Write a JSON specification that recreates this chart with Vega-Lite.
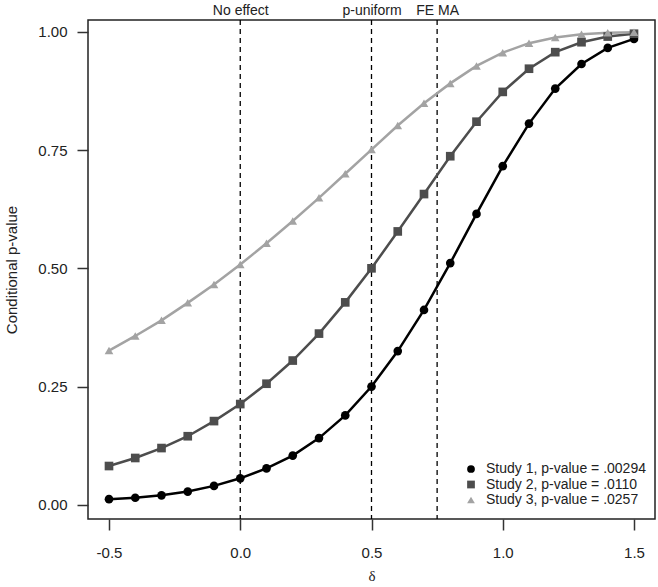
{
  "$schema": "https://vega.github.io/schema/vega-lite/v6.json",
  "width": 567,
  "height": 499,
  "autosize": "none",
  "padding": {"left": 88, "top": 20, "right": 3, "bottom": 68},
  "background": "white",
  "config": {
    "font": "Liberation Sans",
    "view": {"stroke": "#222222", "strokeWidth": 1.5},
    "axis": {
      "labelFont": "Liberation Sans",
      "labelFontSize": 15,
      "labelColor": "#222222",
      "titleFont": "Liberation Sans",
      "titleFontSize": 15,
      "titleFontWeight": "normal",
      "titleColor": "#222222",
      "tickColor": "#333333",
      "tickWidth": 1.5,
      "tickSize": 11,
      "grid": false,
      "domain": false
    },
    "legend": {"labelFont": "Liberation Sans", "labelFontSize": 14, "labelColor": "#222222"}
  },
  "datasets": {
    "curves": [
      {"delta": -0.5, "p": 0.012, "study": "Study 1, p-value = .00294"},
      {"delta": -0.4, "p": 0.015, "study": "Study 1, p-value = .00294"},
      {"delta": -0.3, "p": 0.020, "study": "Study 1, p-value = .00294"},
      {"delta": -0.2, "p": 0.028, "study": "Study 1, p-value = .00294"},
      {"delta": -0.1, "p": 0.040, "study": "Study 1, p-value = .00294"},
      {"delta": 0.0, "p": 0.056, "study": "Study 1, p-value = .00294"},
      {"delta": 0.1, "p": 0.077, "study": "Study 1, p-value = .00294"},
      {"delta": 0.2, "p": 0.104, "study": "Study 1, p-value = .00294"},
      {"delta": 0.3, "p": 0.141, "study": "Study 1, p-value = .00294"},
      {"delta": 0.4, "p": 0.189, "study": "Study 1, p-value = .00294"},
      {"delta": 0.5, "p": 0.250, "study": "Study 1, p-value = .00294"},
      {"delta": 0.6, "p": 0.325, "study": "Study 1, p-value = .00294"},
      {"delta": 0.7, "p": 0.412, "study": "Study 1, p-value = .00294"},
      {"delta": 0.8, "p": 0.511, "study": "Study 1, p-value = .00294"},
      {"delta": 0.9, "p": 0.615, "study": "Study 1, p-value = .00294"},
      {"delta": 1.0, "p": 0.716, "study": "Study 1, p-value = .00294"},
      {"delta": 1.1, "p": 0.806, "study": "Study 1, p-value = .00294"},
      {"delta": 1.2, "p": 0.880, "study": "Study 1, p-value = .00294"},
      {"delta": 1.3, "p": 0.932, "study": "Study 1, p-value = .00294"},
      {"delta": 1.4, "p": 0.966, "study": "Study 1, p-value = .00294"},
      {"delta": 1.5, "p": 0.985, "study": "Study 1, p-value = .00294"},
      {"delta": -0.5, "p": 0.082, "study": "Study 2, p-value = .0110"},
      {"delta": -0.4, "p": 0.099, "study": "Study 2, p-value = .0110"},
      {"delta": -0.3, "p": 0.120, "study": "Study 2, p-value = .0110"},
      {"delta": -0.2, "p": 0.145, "study": "Study 2, p-value = .0110"},
      {"delta": -0.1, "p": 0.177, "study": "Study 2, p-value = .0110"},
      {"delta": 0.0, "p": 0.213, "study": "Study 2, p-value = .0110"},
      {"delta": 0.1, "p": 0.256, "study": "Study 2, p-value = .0110"},
      {"delta": 0.2, "p": 0.305, "study": "Study 2, p-value = .0110"},
      {"delta": 0.3, "p": 0.362, "study": "Study 2, p-value = .0110"},
      {"delta": 0.4, "p": 0.428, "study": "Study 2, p-value = .0110"},
      {"delta": 0.5, "p": 0.500, "study": "Study 2, p-value = .0110"},
      {"delta": 0.6, "p": 0.578, "study": "Study 2, p-value = .0110"},
      {"delta": 0.7, "p": 0.657, "study": "Study 2, p-value = .0110"},
      {"delta": 0.8, "p": 0.737, "study": "Study 2, p-value = .0110"},
      {"delta": 0.9, "p": 0.810, "study": "Study 2, p-value = .0110"},
      {"delta": 1.0, "p": 0.873, "study": "Study 2, p-value = .0110"},
      {"delta": 1.1, "p": 0.922, "study": "Study 2, p-value = .0110"},
      {"delta": 1.2, "p": 0.957, "study": "Study 2, p-value = .0110"},
      {"delta": 1.3, "p": 0.978, "study": "Study 2, p-value = .0110"},
      {"delta": 1.4, "p": 0.990, "study": "Study 2, p-value = .0110"},
      {"delta": 1.5, "p": 0.996, "study": "Study 2, p-value = .0110"},
      {"delta": -0.5, "p": 0.326, "study": "Study 3, p-value = .0257"},
      {"delta": -0.4, "p": 0.357, "study": "Study 3, p-value = .0257"},
      {"delta": -0.3, "p": 0.390, "study": "Study 3, p-value = .0257"},
      {"delta": -0.2, "p": 0.427, "study": "Study 3, p-value = .0257"},
      {"delta": -0.1, "p": 0.466, "study": "Study 3, p-value = .0257"},
      {"delta": 0.0, "p": 0.508, "study": "Study 3, p-value = .0257"},
      {"delta": 0.1, "p": 0.553, "study": "Study 3, p-value = .0257"},
      {"delta": 0.2, "p": 0.600, "study": "Study 3, p-value = .0257"},
      {"delta": 0.3, "p": 0.649, "study": "Study 3, p-value = .0257"},
      {"delta": 0.4, "p": 0.700, "study": "Study 3, p-value = .0257"},
      {"delta": 0.5, "p": 0.751, "study": "Study 3, p-value = .0257"},
      {"delta": 0.6, "p": 0.802, "study": "Study 3, p-value = .0257"},
      {"delta": 0.7, "p": 0.849, "study": "Study 3, p-value = .0257"},
      {"delta": 0.8, "p": 0.891, "study": "Study 3, p-value = .0257"},
      {"delta": 0.9, "p": 0.928, "study": "Study 3, p-value = .0257"},
      {"delta": 1.0, "p": 0.956, "study": "Study 3, p-value = .0257"},
      {"delta": 1.1, "p": 0.976, "study": "Study 3, p-value = .0257"},
      {"delta": 1.2, "p": 0.988, "study": "Study 3, p-value = .0257"},
      {"delta": 1.3, "p": 0.995, "study": "Study 3, p-value = .0257"},
      {"delta": 1.4, "p": 0.998, "study": "Study 3, p-value = .0257"},
      {"delta": 1.5, "p": 0.999, "study": "Study 3, p-value = .0257"}
    ],
    "refs": [
      {"delta": 0, "label": "No effect"},
      {"delta": 0.5, "label": "p-uniform"},
      {"delta": 0.75, "label": "FE MA"}
    ]
  },
  "layer": [
    {
      "data": {"name": "refs"},
      "mark": {"type": "rule", "strokeDash": [5, 4], "color": "#000000", "strokeWidth": 1.3},
      "encoding": {
        "x": {
          "field": "delta",
          "type": "quantitative",
          "scale": {"domain": [-0.58, 1.58], "nice": false, "zero": false},
          "axis": {
            "orient": "top",
            "values": [0, 0.5, 0.75],
            "labelExpr": "datum.value == 0 ? 'No effect' : datum.value == 0.5 ? 'p-uniform' : 'FE MA'",
            "ticks": false,
            "labelFontSize": 14,
            "labelPadding": 3,
            "title": null
          }
        }
      }
    },
    {
      "data": {"name": "curves"},
      "mark": {"type": "line", "strokeWidth": 2.5},
      "encoding": {
        "x": {
          "field": "delta",
          "type": "quantitative",
          "scale": {"domain": [-0.58, 1.58], "nice": false, "zero": false},
          "axis": {
            "orient": "bottom",
            "values": [-0.5, 0, 0.5, 1, 1.5],
            "labelExpr": "datum.value < 0 ? '-' + format(-datum.value, '.1f') : format(datum.value, '.1f')",
            "labelPadding": 15,
            "title": "δ",
            "titleFont": "Liberation Serif",
            "titleFontSize": 15,
            "titlePadding": 8
          }
        },
        "y": {
          "field": "p",
          "type": "quantitative",
          "scale": {"domain": [-0.03, 1.025], "nice": false, "zero": false},
          "axis": {
            "values": [0, 0.25, 0.5, 0.75, 1],
            "format": ".2f",
            "labelPadding": 10,
            "title": "Conditional p-value",
            "titlePadding": 18
          }
        },
        "stroke": {
          "field": "study",
          "type": "nominal",
          "scale": {"range": ["#000000", "#4d4d4d", "#a3a3a3"]},
          "legend": null
        }
      }
    },
    {
      "data": {"name": "curves"},
      "mark": {"type": "point", "filled": true, "size": 75, "opacity": 1},
      "encoding": {
        "x": {"field": "delta", "type": "quantitative", "axis": null},
        "y": {"field": "p", "type": "quantitative"},
        "color": {
          "field": "study",
          "type": "nominal",
          "scale": {"range": ["#000000", "#4d4d4d", "#a3a3a3"]},
          "legend": {"title": null, "orient": "none", "legendX": 376, "legendY": 442, "rowPadding": 1.5, "symbolSize": 60, "labelFontSize": 14, "labelOffset": 8}
        },
        "shape": {
          "field": "study",
          "type": "nominal",
          "scale": {"range": ["circle", "square", "triangle-up"]},
          "legend": {"title": null, "orient": "none", "legendX": 376, "legendY": 442, "rowPadding": 1.5, "symbolSize": 60, "labelFontSize": 14, "labelOffset": 8}
        }
      }
    }
  ],
  "resolve": {"axis": {"x": "independent"}}
}
